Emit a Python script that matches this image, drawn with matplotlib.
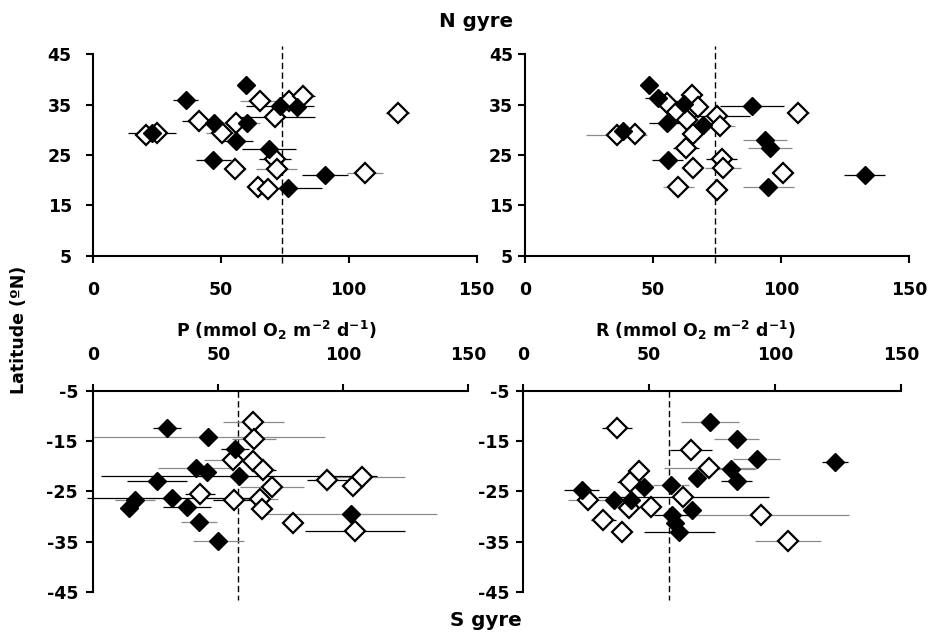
import matplotlib
matplotlib.use("Agg")
import matplotlib.pyplot as plt
import numpy as np

# ---------------- data ----------------
# North gyre, production P (mmol O2 m-2 d-1) vs latitude
n_p_fill_x = [59.9, 36.3, 73.2, 79.7, 47.4, 60.2, 23.3, 56.0, 68.9, 47.1, 90.8, 76.4]
n_p_fill_y = [38.9, 35.9, 34.7, 34.5, 31.3, 31.3, 29.4, 27.8, 26.2, 24.0, 21.0, 18.4]
n_p_fill_e = [0, 4.9, 13.3, 0, 0, 5.0, 9.4, 6.5, 10.4, 6.8, 9.1, 13.0]
n_p_fill_c = ['k', 'k', 'k', 'k', 'k', 'g', 'k', 'k', 'k', 'k', 'k', 'k']

n_p_open_x = [119.1, 65.4, 76.8, 82.0, 71.2, 41.6, 56.0, 50.4, 20.9, 25.2, 71.2, 71.9, 55.6, 64.7, 68.6, 106.4]
n_p_open_y = [33.3, 35.8, 35.8, 36.7, 32.6, 31.7, 31.4, 29.3, 29.0, 29.3, 24.3, 22.3, 22.2, 18.7, 18.2, 21.4]
n_p_open_e = [4.5, 8.0, 0, 5.0, 15.5, 6.8, 5.0, 6.0, 4.0, 3.0, 6.2, 8.0, 4.0, 0, 0, 7.0]
n_p_open_c = ['k', 'g', 'k', 'k', 'k', 'k', 'g', 'g', 'g', 'g', 'k', 'g', 'k', 'k', 'k', 'g']

# North gyre, respiration R
n_r_fill_x = [48.4, 52.0, 62.2, 88.7, 55.3, 69.6, 38.4, 93.7, 95.6, 55.7, 95.0, 132.7]
n_r_fill_y = [38.9, 36.3, 35.1, 34.7, 31.3, 30.9, 29.8, 28.0, 26.3, 24.0, 18.6, 21.1]
n_r_fill_e = [0, 5.0, 0, 12.4, 7.0, 0, 0, 8.5, 8.5, 6.0, 9.9, 8.0]
n_r_fill_c = ['k', 'k', 'k', 'k', 'k', 'k', 'k', 'g', 'g', 'k', 'g', 'k']

n_r_open_x = [106.7, 65.1, 55.5, 67.7, 74.8, 59.2, 63.1, 76.1, 65.7, 35.8, 42.9, 62.8, 76.8, 77.4, 65.7, 59.8, 74.8, 100.8]
n_r_open_y = [33.4, 36.9, 35.3, 34.6, 32.8, 33.6, 32.0, 30.8, 29.2, 29.0, 29.2, 26.3, 24.3, 22.5, 22.4, 18.7, 18.0, 21.4]
n_r_open_e = [4.0, 0, 0, 0, 13.0, 0, 0, 6.0, 0, 11.8, 0, 5.0, 6.0, 7.0, 0, 6.0, 0, 0]
n_r_open_c = ['g', 'k', 'k', 'k', 'k', 'k', 'k', 'g', 'k', 'g', 'k', 'k', 'k', 'g', 'k', 'g', 'k', 'k']

# South gyre, production P
s_p_fill_x = [29.4, 46.0, 56.7, 41.0, 45.6, 58.3, 25.4, 31.4, 16.7, 14.4, 37.4, 42.3, 103.0, 50.0]
s_p_fill_y = [-12.5, -14.1, -16.6, -20.4, -21.1, -21.9, -23.0, -26.2, -26.7, -28.3, -28.1, -31.0, -29.5, -34.8]
s_p_fill_e = [5.5, 46.5, 5.7, 15.3, 0, 55.3, 11.9, 34.0, 8.0, 0, 9.7, 7.3, 34.3, 10.3]
s_p_fill_c = ['k', 'g', 'k', 'g', 'k', 'k', 'k', 'k', 'g', 'k', 'k', 'g', 'g', 'g']

s_p_open_x = [64.0, 64.3, 55.8, 64.0, 68.0, 71.4, 93.4, 104.0, 107.4, 42.7, 56.4, 66.7, 67.4, 80.0, 104.7]
s_p_open_y = [-11.2, -14.6, -18.8, -18.9, -20.7, -24.2, -22.7, -24.0, -22.1, -25.5, -26.7, -26.5, -28.5, -31.3, -32.8]
s_p_open_e = [12.1, 8.7, 11.7, 0, 5.0, 12.7, 8.0, 0, 17.3, 6.0, 8.7, 7.3, 0, 0, 20.0]
s_p_open_c = ['g', 'g', 'g', 'k', 'k', 'g', 'k', 'k', 'g', 'k', 'k', 'g', 'k', 'k', 'k']

# South gyre, respiration R
s_r_fill_x = [74.1, 84.7, 92.7, 123.8, 82.4, 68.9, 84.7, 48.1, 58.7, 23.2, 36.1, 42.7, 66.9, 58.9, 60.2, 62.0]
s_r_fill_y = [-11.2, -14.5, -18.6, -19.2, -20.6, -22.3, -22.9, -24.2, -23.7, -24.8, -26.7, -26.6, -28.7, -29.7, -31.3, -33.0]
s_r_fill_e = [11.6, 9.0, 9.3, 5.0, 10.0, 0, 6.3, 0, 7.0, 7.0, 0, 0, 0, 7.0, 0, 14.0]
s_r_fill_c = ['g', 'g', 'g', 'k', 'g', 'k', 'k', 'k', 'g', 'k', 'k', 'k', 'k', 'k', 'k', 'k']

s_r_open_x = [37.3, 66.6, 73.9, 46.1, 42.4, 63.5, 25.6, 42.0, 50.7, 31.8, 39.1, 94.3, 105.2]
s_r_open_y = [-12.5, -16.8, -20.4, -20.9, -23.1, -26.0, -26.7, -28.2, -28.1, -30.7, -33.0, -29.7, -34.8]
s_r_open_e = [6.0, 8.5, 18.0, 0, 5.0, 34.0, 8.0, 0, 0, 5.0, 0, 35.0, 13.0]
s_r_open_c = ['k', 'k', 'g', 'k', 'k', 'k', 'g', 'k', 'k', 'k', 'k', 'g', 'g']

# mean rates (dashed reference lines)
n_p_mean = 74.1
n_r_mean = 74.2
s_p_mean = 58.0
s_r_mean = 57.9

x_ticks = [0, 50, 100, 150]
n_y_ticks = [5, 15, 25, 35, 45]
s_y_ticks = [-45, -35, -25, -15, -5]

# ---------------- styling ----------------
plt.rcParams['font.family'] = ['DejaVu Sans']
plt.rcParams['font.weight'] = 'bold'
plt.rcParams['mathtext.fontset'] = 'dejavusans'
plt.rcParams['axes.unicode_minus'] = False
FS = 12.5
ERR_COL = {'k': '#000000', 'g': '#8a8a8a'}

W, H = 931, 633
fig = plt.figure(figsize=(W / 100, H / 100), dpi=100)


def px_axes(x0, x1, y_top, y_bot):
    return fig.add_axes([x0 / W, 1 - y_bot / H, (x1 - x0) / W, (y_bot - y_top) / H])


def draw_series(ax, xs, ys, es, cs, filled):
    xs = np.asarray(xs); ys = np.asarray(ys); es = np.asarray(es)
    for x, y, e, c in zip(xs, ys, es, cs):
        if e > 0:
            ax.hlines(y, x - e, x + e, colors=ERR_COL[c], lw=0.9, zorder=2,
                      clip_on=False)
    if filled:
        ax.plot(xs, ys, 'D', ms=9.5, mfc='black', mec='black', mew=1.0,
                ls='none', zorder=4, clip_on=False)
    else:
        ax.plot(xs, ys, 'D', ms=10, mfc='white', mec='black', mew=1.6,
                ls='none', zorder=3, clip_on=False)


def style_axes(ax, north, ypad):
    ax.set_xlim(0, 150)
    ax.set_xticks(x_ticks)
    for s in ax.spines.values():
        s.set_linewidth(1.5)
    ax.spines['right'].set_visible(False)
    if north:
        ax.set_ylim(5, 45)
        ax.set_yticks(n_y_ticks)
        ax.spines['top'].set_visible(False)
        ax.xaxis.set_ticks_position('bottom')
        ax.tick_params(axis='x', direction='out', length=5, width=1.5,
                       pad=13.5, labelsize=FS)
    else:
        ax.set_ylim(-45, -5)
        ax.set_yticks(s_y_ticks)
        ax.spines['bottom'].set_visible(False)
        ax.xaxis.set_ticks_position('top')
        ax.tick_params(axis='x', direction='out', length=5, width=1.5,
                       pad=14, labelsize=FS)
    ax.tick_params(axis='y', direction='out', length=5, width=1.5,
                   pad=ypad, labelsize=FS)
    for lab in ax.get_xticklabels() + ax.get_yticklabels():
        lab.set_fontweight('bold')
    ax.patch.set_alpha(0)


def mean_line(ax, m, y0, y1):
    ax.plot([m, m], [y0, y1], color='black', lw=1.0, ls=(0, (4.5, 2.5)),
            zorder=1, clip_on=False)


ax_np = px_axes(92.7, 476.7, 54.3, 255.7)
ax_nr = px_axes(525.0, 909.3, 54.3, 255.7)
ax_sp = px_axes(93.3, 468.3, 390.7, 592.3)
ax_sr = px_axes(523.3, 901.0, 390.7, 592.3)

style_axes(ax_np, True, 10)
style_axes(ax_nr, True, 3.5)
style_axes(ax_sp, False, 6)
style_axes(ax_sr, False, 5)

mean_line(ax_np, n_p_mean, 3.5, 46.7)
mean_line(ax_nr, n_r_mean, 3.5, 46.7)
mean_line(ax_sp, s_p_mean, -5, -46.5)
mean_line(ax_sr, s_r_mean, -5, -46.5)

draw_series(ax_np, n_p_open_x, n_p_open_y, n_p_open_e, n_p_open_c, False)
draw_series(ax_np, n_p_fill_x, n_p_fill_y, n_p_fill_e, n_p_fill_c, True)
draw_series(ax_nr, n_r_open_x, n_r_open_y, n_r_open_e, n_r_open_c, False)
draw_series(ax_nr, n_r_fill_x, n_r_fill_y, n_r_fill_e, n_r_fill_c, True)
draw_series(ax_sp, s_p_open_x, s_p_open_y, s_p_open_e, s_p_open_c, False)
draw_series(ax_sp, s_p_fill_x, s_p_fill_y, s_p_fill_e, s_p_fill_c, True)
draw_series(ax_sr, s_r_open_x, s_r_open_y, s_r_open_e, s_r_open_c, False)
draw_series(ax_sr, s_r_fill_x, s_r_fill_y, s_r_fill_e, s_r_fill_c, True)

# titles and axis labels
fig.text(476.5 / W, 1 - 27 / H, "N gyre", ha='center', va='baseline',
         fontsize=14.3, fontweight='bold')
fig.text(486 / W, 1 - 626.5 / H, "S gyre", ha='center', va='baseline',
         fontsize=14.3, fontweight='bold')
fig.text(19.5 / W, 1 - 330 / H, "Latitude (ºN)", rotation=90, ha='center',
         va='center', fontsize=FS, fontweight='bold')
unit = r" (mmol O$_{\mathbf{2}}$ m$^{\mathbf{-2}}$ d$^{\mathbf{-1}}$)"
fig.text(276 / W, 1 - 336.7 / H, "P" + unit, ha='center', va='baseline',
         fontsize=FS, fontweight='bold')
fig.text(696 / W, 1 - 336.7 / H, "R" + unit, ha='center', va='baseline',
         fontsize=FS, fontweight='bold')

fig.savefig("out.png", dpi=100)
